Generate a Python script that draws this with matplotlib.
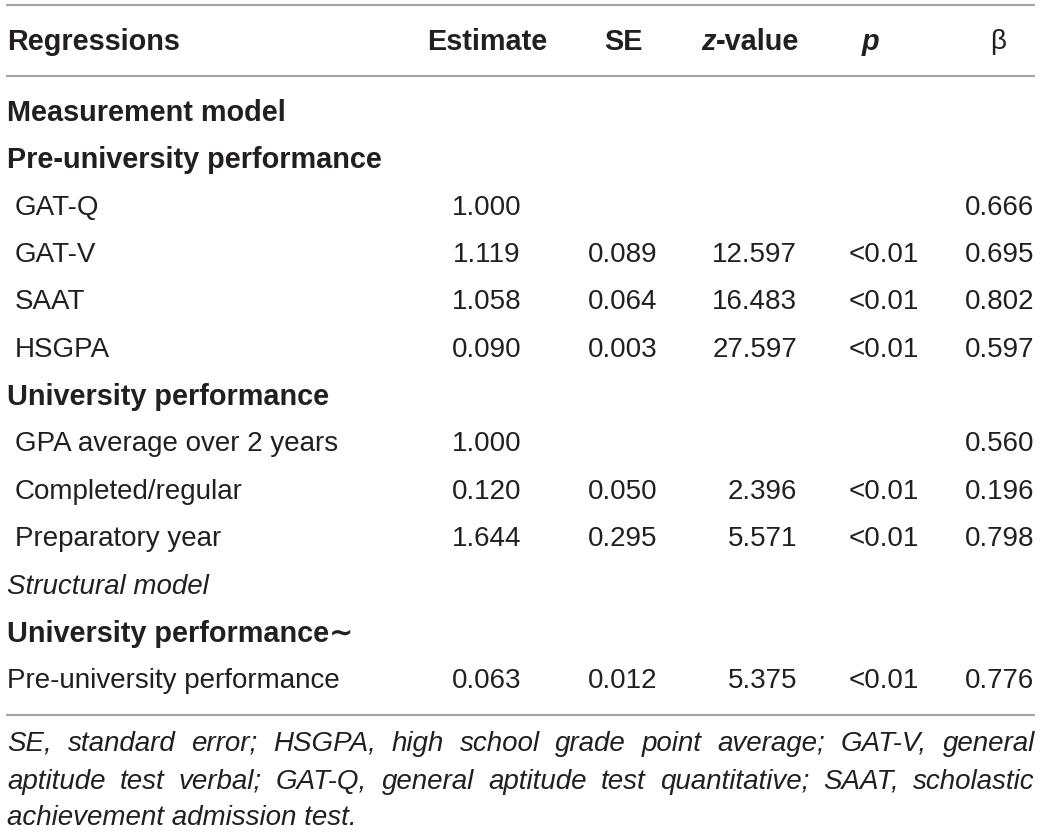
import matplotlib
matplotlib.use("Agg")
import matplotlib.pyplot as plt

# données du tableau
headers = ["Regressions", "Estimate", "SE", "z-value", "p", "β"]

row_labels = [
    "Measurement model",
    "Pre-university performance",
    "GAT-Q",
    "GAT-V",
    "SAAT",
    "HSGPA",
    "University performance",
    "GPA average over 2 years",
    "Completed/regular",
    "Preparatory year",
    "Structural model",
    "University performance∼",
    "Pre-university performance",
]
# style de la ligne : "bold", "indent", "italic", "plain"
row_kind = ["bold", "bold", "indent", "indent", "indent", "indent", "bold",
            "indent", "indent", "indent", "italic", "bold", "plain"]

estimate = ["", "", "1.000", "1.119", "1.058", "0.090", "", "1.000", "0.120", "1.644", "", "", "0.063"]
se = ["", "", "", "0.089", "0.064", "0.003", "", "", "0.050", "0.295", "", "", "0.012"]
zval = ["", "", "", "12.597", "16.483", "27.597", "", "", "2.396", "5.571", "", "", "5.375"]
pval = ["", "", "", "<0.01", "<0.01", "<0.01", "", "", "<0.01", "<0.01", "", "", "<0.01"]
beta = ["", "", "0.666", "0.695", "0.802", "0.597", "", "0.560", "0.196", "0.798", "", "", "0.776"]

foot_lines = [
    "SE, standard error; HSGPA, high school grade point average; GAT-V, general",
    "aptitude test verbal; GAT-Q, general aptitude test quantitative; SAAT, scholastic",
    "achievement admission test.",
]

W, H = 1040, 834
txt_color = "#231f20"
rule_color = "#a6a6a6"
fs = 20
fs_bold = 20.8

plt.rcParams["font.family"] = ["Liberation Sans", "DejaVu Sans"]

fig = plt.figure(figsize=(W / 100, H / 100), dpi=100)
ax = fig.add_axes([0, 0, 1, 1])
ax.set_xlim(0, W)
ax.set_ylim(H, 0)
ax.axis("off")

# filets horizontaux
for y in [5, 76, 715]:
    ax.plot([6, 1035], [y, y], color=rule_color, lw=1.6, solid_capstyle="butt")

# colonnes : (x, alignement)
col_pos = [(7, "left"), (487, "center"), (623, "center"), (797, "right"), (884, "center"), (1034, "right")]
header_pos = [(7, "left"), (487, "center"), (623, "center"), (750, "center"), (870, "center"), (998, "center")]

fig.canvas.draw()
renderer = fig.canvas.get_renderer()

def px_width(t):
    return t.get_window_extent(renderer).width

y_head = 42
for i, h in enumerate(headers):
    x, ha = header_pos[i]
    if h == "z-value":
        # z en italique, "-value" en gras droit
        tz = ax.text(0, y_head, "z", ha="left", va="center", fontsize=fs_bold, fontweight="bold",
                     fontstyle="italic", color=txt_color)
        tv = ax.text(0, y_head, "-value", ha="left", va="center", fontsize=fs_bold,
                     fontweight="bold", color=txt_color)
        wz, wv = px_width(tz), px_width(tv)
        start = x - (wz + wv) / 2
        tz.set_x(start)
        tv.set_x(start + wz)
    elif h == "p":
        ax.text(x, y_head, h, ha=ha, va="center", fontsize=fs_bold, fontweight="bold",
                fontstyle="italic", color=txt_color)
    elif h == "β":
        ax.text(x, y_head, h, ha=ha, va="center", fontsize=fs, color=txt_color)
    else:
        ax.text(x, y_head, h, ha=ha, va="center", fontsize=fs_bold, fontweight="bold",
                color=txt_color)

y0, dy = 113, 47.35
for i, lab in enumerate(row_labels):
    y = y0 + i * dy
    kind = row_kind[i]
    x = 15 if kind == "indent" else 7
    kw = dict(fontsize=fs, color=txt_color, va="center", ha="left")
    if kind == "bold":
        kw["fontweight"] = "bold"
        kw["fontsize"] = fs_bold
    elif kind == "italic":
        kw["fontstyle"] = "italic"
    ax.text(x, y, lab, **kw)
    for j, col in enumerate([estimate, se, zval, pval, beta]):
        cx, ha = col_pos[j + 1]
        if col[i]:
            ax.text(cx, y, col[i], fontsize=fs, color=txt_color, va="center", ha=ha)

# note de bas de tableau, justifiée
foot_y = [744, 782, 818]
left, right = 7, 1035
for k, line in enumerate(foot_lines):
    if k == len(foot_lines) - 1:
        ax.text(left, foot_y[k], line, fontsize=fs, fontstyle="italic", color=txt_color,
                va="center", ha="left")
        continue
    words = line.split(" ")
    arts = [ax.text(0, foot_y[k], w, fontsize=fs, fontstyle="italic", color=txt_color,
                    va="center", ha="left") for w in words]
    widths = [px_width(a) for a in arts]
    gap = (right - left - sum(widths)) / (len(words) - 1)
    x = left
    for a, w in zip(arts, widths):
        a.set_x(x)
        x += w + gap

fig.savefig("out.png", dpi=100, facecolor="white")
